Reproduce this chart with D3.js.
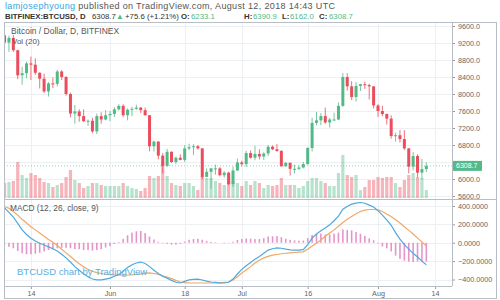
<!DOCTYPE html>
<html>
<head>
<meta charset="utf-8">
<script src="https://cdnjs.cloudflare.com/ajax/libs/d3/7.8.5/d3.min.js"></script>
<style>
  body { margin: 0; background: #fff; }
  svg { display: block; font-family: "Liberation Sans", Arial, sans-serif; }
</style>
</head>
<body>
<div id="chart"></div>
<script>
// daily candles, BITFINEX:BTCUSD, 8 May 2018 .. 12 Aug 2018
var firstDay = new Date(Date.UTC(2018, 4, 8));
var lastDay = new Date(Date.UTC(2018, 7, 13));
var days = d3.utcDay.range(firstDay, lastDay);

var openVals = [9380, 9210, 9320, 9030, 8440, 8490, 8720, 8690, 8500, 8360, 8060, 8250, 8240, 8530, 8400, 8000, 7540, 7590, 7480, 7360, 7370, 7120, 7480, 7400,
  7500, 7530, 7640, 7720, 7500, 7630, 7650, 7680, 7620, 7500, 6770, 6880, 6550, 6310, 6640, 6400, 6500, 6450, 6720, 6750, 6770, 6720, 6050, 6170, 6250, 6250, 6090, 6150, 5880, 6200,
  6390, 6350, 6610, 6500, 6590, 6530, 6600, 6760, 6700, 6660, 6300, 6380, 6240, 6240, 6270, 6350, 6730, 7320, 7380, 7480, 7330, 7400, 7400, 7720, 8400, 8180, 7930, 8190, 8230, 8210, 8180,
  7730, 7600, 7530, 7420, 7010, 7030, 6940, 6720, 6290, 6540, 6150, 6233.1];
var highVals = [9470, 9370, 9390, 9040, 8640, 8760, 8880, 8840, 8510, 8480, 8280, 8390, 8570, 8560, 8420, 8030, 7740, 7640, 7640, 7400, 7440, 7540, 7570, 7620,
  7600, 7690, 7760, 7760, 7660, 7700, 7750, 7690, 7680, 7500, 6900, 6890, 6610, 6710, 6650, 6530, 6580, 6800, 6830, 6820, 6800, 6730, 6250, 6260, 6340, 6280, 6180, 6170, 6290, 6480,
  6430, 6660, 6670, 6780, 6700, 6630, 6800, 6790, 6820, 6680, 6400, 6390, 6340, 6320, 6400, 6750, 7440, 7580, 7550, 7680, 7440, 7560, 7800, 8490, 8490, 8300, 8280, 8240, 8290, 8240, 8180,
  7760, 7720, 7540, 7500, 7090, 7150, 7150, 6730, 6630, 6580, 6470, 6390.9];
var lowVals = [9060, 8990, 8990, 8350, 8220, 8370, 8330, 8450, 8130, 8020, 7940, 8140, 8180, 8330, 7960, 7450, 7300, 7350, 7340, 7250, 7080, 7060, 7300, 7380,
  7360, 7460, 7610, 7460, 7380, 7480, 7630, 7550, 7490, 6650, 6650, 6460, 6130, 6280, 6380, 6350, 6440, 6400, 6680, 6560, 6690, 6000, 6040, 5770, 6100, 6060, 6030, 5850, 5810, 6190,
  6300, 6280, 6480, 6440, 6460, 6450, 6540, 6680, 6640, 6290, 6290, 6080, 6130, 6210, 6250, 6340, 6650, 7260, 7270, 7300, 7210, 7370, 7390, 7700, 8080, 7860, 7820, 8070, 8120, 7870, 7660,
  7460, 7480, 7280, 6950, 6880, 6860, 6680, 6130, 6200, 6040, 6000, 6162.0];
var closeVals = [9210, 9320, 9030, 8440, 8490, 8720, 8690, 8500, 8360, 8060, 8250, 8240, 8530, 8400, 8000, 7540, 7590, 7480, 7360, 7370, 7120, 7480, 7400, 7500,
  7530, 7640, 7720, 7500, 7630, 7650, 7680, 7620, 7500, 6770, 6880, 6550, 6310, 6640, 6400, 6500, 6450, 6720, 6750, 6770, 6720, 6050, 6170, 6250, 6250, 6090, 6150, 5880, 6200, 6390,
  6350, 6610, 6500, 6590, 6530, 6600, 6760, 6700, 6660, 6300, 6380, 6240, 6240, 6270, 6350, 6730, 7320, 7380, 7480, 7330, 7400, 7400, 7720, 8400, 8180, 7930, 8190, 8230, 8210, 8180, 7730,
  7600, 7530, 7420, 7010, 7030, 6940, 6720, 6290, 6540, 6150, 6233.1, 6308.7];
var volumeVals = [24000, 25600, 27200, 57600, 36800, 32000, 40000, 36800, 32000, 25600, 24000, 17600, 20800, 24000, 33600, 44800, 28800, 24000, 16000, 19200, 24000, 24000, 20800, 19200,
  19200, 19200, 19200, 24000, 19200, 16000, 14400, 11200, 16000, 35200, 32000, 35200, 57600, 35200, 24000, 20800, 19200, 24000, 24000, 19200, 12800, 35200, 32000, 32000, 27200, 24000, 20800, 27200, 27200, 24000,
  19200, 27200, 20800, 27200, 24000, 16000, 20800, 19200, 20800, 32000, 20800, 20800, 20800, 16000, 19200, 27200, 32000, 32000, 27200, 24000, 19200, 19200, 40000, 68800, 36800, 33600, 36800, 12800, 17600, 28800, 28800,
  33600, 32000, 33600, 33600, 24000, 17600, 28800, 36800, 40000, 33600, 32000, 12800];

// MACD (12, 26, close, 9)
var macdVals = [380, 330, 280, 210, 140, 90, 50, 20, -5, -25, -45, -65, -90, -125, -165, -210, -260, -300, -340, -370, -395, -405, -405, -395,
  -385, -365, -345, -310, -270, -240, -220, -210, -225, -260, -300, -335, -365, -385, -410, -430, -438, -420, -405, -398, -395, -405, -418, -427, -432, -436, -438, -430, -395, -340,
  -290, -250, -215, -180, -150, -115, -80, -65, -55, -60, -70, -78, -80, -80, -75, -20, 50, 95, 130, 160, 195, 240, 290, 365, 395, 420, 432, 438, 430, 410, 390,
  350, 300, 250, 190, 110, 40, -20, -70, -115, -155, -200, -240];
var signalVals = [395, 375, 340, 300, 255, 215, 175, 140, 105, 70, 35, 5, -30, -70, -110, -150, -190, -230, -260, -290, -310, -325, -335, -343,
  -348, -351, -352, -352, -351, -350, -345, -338, -330, -328, -335, -345, -360, -373, -390, -410, -427, -433, -437, -438, -438, -438, -438, -438, -438, -436, -432, -427, -405, -370,
  -330, -296, -260, -220, -190, -165, -148, -135, -128, -120, -114, -110, -106, -102, -99, -70, -35, -5, 30, 70, 105, 140, 180, 220, 255, 285, 315, 340, 355, 362, 362,
  358, 340, 310, 285, 250, 215, 175, 135, 95, 50, 10, -35];
var histVals = [-15, -45, -60, -90, -115, -125, -125, -120, -110, -95, -80, -70, -60, -55, -55, -60, -70, -70, -80, -80, -85, -80, -70, -52,
  -37, -14, 7, 42, 81, 110, 125, 128, 105, 68, 35, 10, -5, -12, -20, -20, -11, 13, 32, 40, 43, 33, 20, 11, 6, 0, -6, -3, 10, 30,
  40, 46, 45, 40, 40, 50, 68, 70, 73, 60, 44, 32, 26, 22, 24, 50, 85, 100, 100, 90, 90, 100, 110, 145, 140, 135, 117, 98, 75, 48, 28,
  -8, -40, -60, -95, -140, -175, -195, -205, -210, -205, -210, -205];

// axis ticks
var priceTicks = [5600, 6000, 6800, 7200, 7600, 8000, 8400, 8800, 9200, 9600]; // 6400 sits under the last-price tag
var gridPrices = [5600, 6000, 6400, 6800, 7200, 7600, 8000, 8400, 8800, 9200, 9600];
var macdTicks = [-400, -200, 0, 200, 400];
var timeTickDates = [new Date(Date.UTC(2018, 4, 14)), new Date(Date.UTC(2018, 5, 1)), new Date(Date.UTC(2018, 5, 18)),
  new Date(Date.UTC(2018, 6, 1)), new Date(Date.UTC(2018, 6, 16)), new Date(Date.UTC(2018, 7, 1)), new Date(Date.UTC(2018, 7, 14))];
var timeTickLabels = ["14", "Jun", "18", "Jul", "16", "Aug", "14"];
var lastPrice = 6308.7;

var upColor = "#53b987", downColor = "#eb4d5c";

// frame geometry
var W = 500, H = 300;
var left = 4, plotRight = 452, frameRight = 496;
var mainTop = 22, mainBottom = 199, macdBottom = 286, frameBottom = 299;

var bars = days.map(function(d, i) {
  return { date: d, o: openVals[i], h: highVals[i], l: lowVals[i], c: closeVals[i], v: volumeVals[i],
           macd: macdVals[i], signal: signalVals[i], hist: histVals[i] };
});

var x = d3.scaleUtc()
  .domain([new Date(Date.UTC(2018, 5, 1)), new Date(Date.UTC(2018, 7, 1))])
  .range([110, 378]);
var y = d3.scaleLinear().domain([5600, 9600]).range([196, 26]);
var yVol = d3.scaleLinear().domain([0, 80000]).range([mainBottom - 1, mainBottom - 51]);
var yMacd = d3.scaleLinear().domain([-400, 400]).range([279.5, 206]);

var svg = d3.select("#chart").append("svg")
  .attr("width", W).attr("height", H);

var defs = svg.append("defs");
defs.append("clipPath").attr("id", "clipMain").append("rect")
  .attr("x", left).attr("y", mainTop).attr("width", plotRight - left).attr("height", mainBottom - mainTop);
defs.append("clipPath").attr("id", "clipMacd").append("rect")
  .attr("x", left).attr("y", mainBottom).attr("width", plotRight - left).attr("height", macdBottom - mainBottom);

// header
var head1 = svg.append("text").attr("x", 5).attr("y", 8.5).style("font-size", "9px")
  .attr("textLength", 330).attr("lengthAdjust", "spacing");
head1.append("tspan").attr("fill", "#3ba4dd").text("lamjosephyoung");
head1.append("tspan").attr("fill", "#555").text(" published on TradingView.com, August 12, 2018 14:43 UTC");

var head2 = svg.append("text").attr("y", 18.5).style("font-size", "7.8px");
var parts = [
  { t: "BITFINEX:BTCUSD, D", x: 5, c: "#333", b: true },
  { t: "6308.7", x: 92, c: "#333", b: false },
  { t: "\u25B2", x: 116, c: upColor, b: false },
  { t: "+75.6 (+1.21%)", x: 125, c: "#333", b: false },
  { t: "O:", x: 181, c: "#333", b: true },
  { t: "6233.1", x: 191, c: upColor, b: false },
  { t: "H:", x: 244, c: "#333", b: true },
  { t: "6390.9", x: 253, c: upColor, b: false },
  { t: "L:", x: 282, c: "#333", b: true },
  { t: "6162.0", x: 290, c: upColor, b: false },
  { t: "C:", x: 319, c: "#333", b: true },
  { t: "6308.7", x: 329, c: upColor, b: false }
];
parts.forEach(function(p) {
  head2.append("tspan").attr("x", p.x).attr("fill", p.c)
    .style("font-weight", p.b ? "bold" : "normal").text(p.t);
});

// grid
var grid = svg.append("g").attr("stroke", "#edf0f3").attr("stroke-width", 1);
grid.selectAll(".vg").data(timeTickDates).enter().append("line")
  .attr("x1", function(d) { return Math.round(x(d)) + 0.5; })
  .attr("x2", function(d) { return Math.round(x(d)) + 0.5; })
  .attr("y1", mainTop).attr("y2", macdBottom);
grid.selectAll(".hg").data(gridPrices.filter(function(p) { return y(p) < mainBottom - 2; })).enter().append("line")
  .attr("x1", left).attr("x2", plotRight)
  .attr("y1", function(d) { return Math.round(y(d)) + 0.5; })
  .attr("y2", function(d) { return Math.round(y(d)) + 0.5; });
grid.selectAll(".mg").data(macdTicks).enter().append("line")
  .attr("x1", left).attr("x2", plotRight)
  .attr("y1", function(d) { return Math.round(yMacd(d)) + 0.5; })
  .attr("y2", function(d) { return Math.round(yMacd(d)) + 0.5; });

// volume
var main = svg.append("g").attr("clip-path", "url(#clipMain)");
main.selectAll(".vol").data(bars).enter().append("rect")
  .attr("x", function(d) { return x(d.date) - 1.6; })
  .attr("width", 3.2)
  .attr("y", function(d) { return yVol(d.v); })
  .attr("height", function(d) { return yVol(0) - yVol(d.v); })
  .attr("fill", function(d) { return d.c >= d.o ? upColor : downColor; })
  .attr("fill-opacity", 0.42);

// last price line
main.append("line")
  .attr("x1", left).attr("x2", plotRight)
  .attr("y1", y(lastPrice)).attr("y2", y(lastPrice))
  .attr("stroke", upColor).attr("stroke-opacity", 0.6)
  .attr("stroke-dasharray", "1,2");

// candles
var candle = main.selectAll(".candle").data(bars).enter().append("g");
candle.append("line")
  .attr("x1", function(d) { return x(d.date); })
  .attr("x2", function(d) { return x(d.date); })
  .attr("y1", function(d) { return y(d.h); })
  .attr("y2", function(d) { return y(d.l); })
  .attr("stroke", function(d) { return d.c >= d.o ? upColor : downColor; })
  .attr("stroke-width", 0.8);
candle.append("rect")
  .attr("x", function(d) { return x(d.date) - 1.5; })
  .attr("width", 3)
  .attr("y", function(d) { return y(Math.max(d.o, d.c)); })
  .attr("height", function(d) { return Math.max(1, Math.abs(y(d.o) - y(d.c))); })
  .attr("fill", function(d) { return d.c >= d.o ? upColor : downColor; });

// legends
svg.append("text").attr("x", 11).attr("y", 34).attr("fill", "#555")
  .style("font-size", "8.5px").text("Bitcoin / Dollar, D, BITFINEX");
svg.append("text").attr("x", 12).attr("y", 43.5).attr("fill", "#555")
  .style("font-size", "8px").text("Vol (20)");

// MACD pane
var macdG = svg.append("g").attr("clip-path", "url(#clipMacd)");
macdG.selectAll(".hist").data(bars).enter().append("rect")
  .attr("x", function(d) { return x(d.date) - 0.8; })
  .attr("width", 1.6)
  .attr("y", function(d) { return Math.min(yMacd(0), yMacd(d.hist)); })
  .attr("height", function(d) { return Math.abs(yMacd(d.hist) - yMacd(0)); })
  .attr("fill", "#df7cbc").attr("fill-opacity", 0.8);
macdG.append("path").datum(bars)
  .attr("fill", "none").attr("stroke", "#f2a766").attr("stroke-width", 1.2)
  .attr("d", d3.line().x(function(d) { return x(d.date); }).y(function(d) { return yMacd(d.signal); }));
macdG.append("path").datum(bars)
  .attr("fill", "none").attr("stroke", "#4ea9dd").attr("stroke-width", 1.2)
  .attr("d", d3.line().x(function(d) { return x(d.date); }).y(function(d) { return yMacd(d.macd); }));

svg.append("text").attr("x", 10).attr("y", 211).attr("fill", "#555")
  .style("font-size", "8.3px").text("MACD (12, 26, close, 9)");
svg.append("text").attr("x", 17).attr("y", 274.5).attr("fill", "#5aaee0")
  .style("font-size", "9.5px").text("BTCUSD chart by TradingView");

// axes
var priceAxis = svg.append("g").attr("transform", "translate(" + plotRight + ",0)")
  .call(d3.axisRight(y).tickValues(priceTicks).tickSize(3).tickFormat(d3.format(".1f")));
var macdAxis = svg.append("g").attr("transform", "translate(" + plotRight + ",0)")
  .call(d3.axisRight(yMacd).tickValues(macdTicks).tickSize(3).tickFormat(d3.format(".4f")));
var timeAxis = svg.append("g").attr("transform", "translate(0," + macdBottom + ")")
  .call(d3.axisBottom(x).tickValues(timeTickDates).tickSize(3)
    .tickFormat(function(d, i) { return timeTickLabels[i]; }));
[priceAxis, macdAxis, timeAxis].forEach(function(a) {
  a.select(".domain").remove();
  a.selectAll("line").attr("stroke", "#999");
  a.selectAll("text").attr("fill", "#666").style("font-size", "7.2px")
    .style("font-family", "'Liberation Sans', Arial, sans-serif");
});
priceAxis.selectAll("text").attr("x", 6);
macdAxis.selectAll("text").attr("x", 6);
timeAxis.selectAll("text").attr("y", 5);

// last price tag
svg.append("rect").attr("x", plotRight).attr("y", y(lastPrice) - 5)
  .attr("width", 30).attr("height", 10).attr("fill", upColor);
svg.append("text").attr("x", plotRight + 4).attr("y", y(lastPrice) + 2.5)
  .attr("fill", "#fff").style("font-size", "7px").text(d3.format(".1f")(lastPrice));

// frame and separators
var frame = svg.append("g").attr("fill", "none").attr("stroke", "#b9bec6").attr("stroke-width", 1);
frame.append("rect").attr("x", left + 0.5).attr("y", mainTop + 0.5)
  .attr("width", frameRight - left).attr("height", frameBottom - mainTop - 1);
frame.append("line").attr("x1", plotRight + 0.5).attr("x2", plotRight + 0.5)
  .attr("y1", mainTop).attr("y2", macdBottom);
frame.append("line").attr("x1", left).attr("x2", frameRight)
  .attr("y1", mainBottom + 0.5).attr("y2", mainBottom + 0.5);
frame.append("line").attr("x1", left).attr("x2", plotRight)
  .attr("y1", macdBottom + 0.5).attr("y2", macdBottom + 0.5);
</script>
</body>
</html>
